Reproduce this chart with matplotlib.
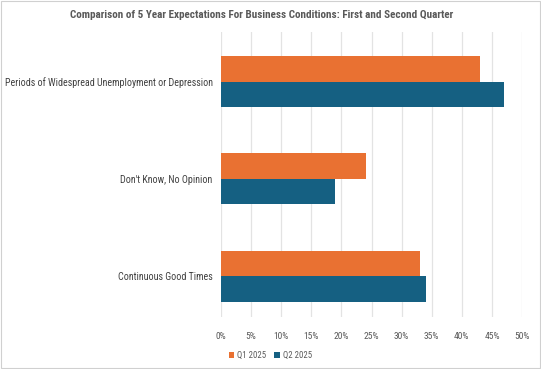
import matplotlib.pyplot as plt
import numpy as np
from matplotlib.patches import Rectangle

plt.rcParams['font.family'] = ['Roboto Condensed', 'DejaVu Sans']

categories = ["Periods of Widespread Unemployment or Depression",
              "Don't Know, No Opinion",
              "Continuous Good Times"]
q1_2025 = [43, 24, 33]
q2_2025 = [47, 19, 34]
series_names = ["Q1 2025", "Q2 2025"]
xticks = [0, 5, 10, 15, 20, 25, 30, 35, 40, 45, 50]

orange = '#E97132'
blue = '#156082'
grey_text = '#595959'

fig = plt.figure(figsize=(5.41, 3.69), dpi=100)
ax = fig.add_axes([0.4085, 0.141, 0.5565, 0.772])

y = np.arange(len(categories))
h = 0.262
ax.barh(y - h / 2, q1_2025, height=h, color=orange, label=series_names[0], zorder=3)
ax.barh(y + h / 2, q2_2025, height=h, color=blue, label=series_names[1], zorder=3)

ax.set_xlim(0, 50)
ax.set_ylim(2.42, -0.51)
ax.set_xticks(xticks)
ax.set_xticklabels([f"{t}%" for t in xticks], fontsize=6.8, color=grey_text)
ax.set_yticks(y)
ax.set_yticklabels(categories, fontsize=7.2, color='#404040')
ax.tick_params(axis='both', length=0)
ax.tick_params(axis='y', pad=6)
ax.tick_params(axis='x', pad=11)
ax.grid(axis='x', color='#E3E3E3', linewidth=0.9, zorder=0)
for s in ax.spines.values():
    s.set_visible(False)

fig.text(0.484, 0.958, "Comparison of 5 Year Expectations For Business Conditions: First and Second Quarter",
         ha='center', va='center', fontsize=8, fontweight='bold', color=grey_text)

leg = fig.legend(loc='center', bbox_to_anchor=(0.50, 0.037), ncol=2, frameon=False,
                 fontsize=6.3, handlelength=0.6, handleheight=0.6, handletextpad=0.4,
                 columnspacing=0.9)
for t in leg.get_texts():
    t.set_color(grey_text)

fig.patches.append(Rectangle((0.002, 0.003), 0.996, 0.994, transform=fig.transFigure,
                             fill=False, edgecolor='#D0D0D0', linewidth=0.8))

fig.savefig('out.png', dpi=100)
